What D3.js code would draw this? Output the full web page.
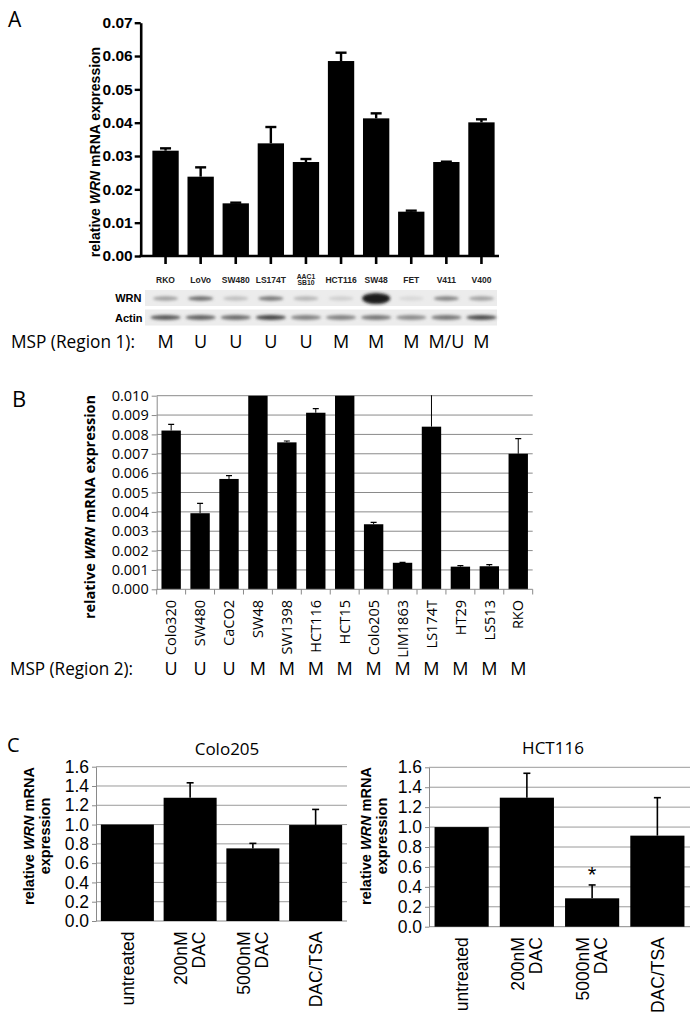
<!DOCTYPE html>
<html><head><meta charset="utf-8">
<script src="https://cdn.jsdelivr.net/npm/d3@7"></script>
<style>body{margin:0;background:#fff} svg{display:block}</style>
</head><body>
<svg id="c" width="699" height="1017"></svg>
<script>
// ---------- Panel A data ----------
const catsA = ["RKO","LoVo","SW480","LS174T","AAC1\nSB10","HCT116","SW48","FET","V411","V400"];
const valsA = [0.0316,0.0238,0.0158,0.0338,0.0282,0.0585,0.0413,0.0133,0.0282,0.0401];
const errTopA = [0.0323,0.0266,0.0160,0.0387,0.0291,0.0610,0.0428,0.0136,0.0283,0.0410];
const ticksA = [0,0.01,0.02,0.03,0.04,0.05,0.06,0.07];
const mspA = ["M","U","U","U","U","M","M","M","M/U","M"];
const wrnBand = [0.35,0.6,0.2,0.55,0.25,0.12,1.0,0.08,0.5,0.35];
const actinBand = [0.7,0.65,0.6,0.8,0.5,0.5,0.55,0.45,0.55,0.75];
// ---------- Panel B data ----------
const catsB = ["Colo320","SW480","CaCO2","SW48","SW1398","HCT116","HCT15","Colo205","LIM1863","LS174T","HT29","LS513","RKO"];
const valsB = [0.0082,0.00393,0.0057,0.0100,0.00759,0.00912,0.0100,0.00336,0.00137,0.0084,0.00117,0.00119,0.0070];
const errTopB = [0.00852,0.00444,0.00587,0.0100,0.00766,0.00933,0.0100,0.00346,0.00139,0.0105,0.00122,0.00127,0.00778];
const ticksB = [0,0.001,0.002,0.003,0.004,0.005,0.006,0.007,0.008,0.009,0.010];
const mspB = ["U","U","U","M","M","M","M","M","M","M","M","M","M"];
// ---------- Panel C data ----------
const catsC = ["untreated","200nM\nDAC","5000nM\nDAC","DAC/TSA"];
const valsColo205 = [1.0,1.278,0.753,0.995];
const errTopColo205 = [1.0,1.433,0.805,1.157];
const valsHCT116 = [1.0,1.295,0.285,0.914];
const errTopHCT116 = [1.0,1.54,0.419,1.295];
const ticksC = [0,0.2,0.4,0.6,0.8,1.0,1.2,1.4,1.6];

const svg = d3.select("#c");
const ARIAL = "'Liberation Sans', Arial, sans-serif";
const CAL = "'Open Sans', 'Noto Sans', sans-serif";

function yTitle(g, x, y, lines, size, font, len) {
  const t = g.append("text").attr("transform", `translate(${x},${y}) rotate(-90)`)
    .attr("text-anchor","middle").attr("font-family", font).attr("font-weight","bold")
    .attr("font-size", size);
  lines.forEach((ln, i) => {
    const ts = t.append("tspan").attr("x",0).attr("dy", i===0 ? `${0.35 - (lines.length-1)*0.55}em` : "1.1em");
    ln.forEach(p => ts.append("tspan").attr("font-style", p[1] ? "italic" : null).text(p[0]));
  });
}

// ================= PANEL A =================
const gA = svg.append("g");
gA.append("text").attr("x",8).attr("y",27).attr("font-family",CAL).attr("font-size",21).text("A");
const xA = d3.scaleBand().domain(catsA).range([148,499]).paddingInner(0.25).paddingOuter(0.125);
const yA = d3.scaleLinear().domain([0,0.07]).range([256,22.7]);
const axA = gA.append("g").attr("transform","translate(140.7,0)")
  .call(d3.axisLeft(yA).tickValues(ticksA).tickFormat(d3.format(".2f")).tickSize(6).tickSizeOuter(0).tickPadding(2));
axA.select(".domain").attr("stroke-width",2.6);
axA.selectAll(".tick line").attr("stroke-width",2.4);
axA.selectAll(".tick text").attr("font-family",ARIAL).attr("font-weight","bold").attr("font-size",15.5);
gA.selectAll("rect.bar").data(catsA).join("rect")
  .attr("x", d => xA(d)).attr("width", xA.bandwidth())
  .attr("y", (d,i) => yA(valsA[i])).attr("height", (d,i) => yA(0)-yA(valsA[i])).attr("fill","#000");
catsA.forEach((d,i) => {
  const cx = xA(d) + xA.bandwidth()/2;
  gA.append("line").attr("x1",cx).attr("x2",cx).attr("y1",yA(valsA[i])).attr("y2",yA(errTopA[i])).attr("stroke","#000").attr("stroke-width",2.4);
  gA.append("line").attr("x1",cx-5.5).attr("x2",cx+5.5).attr("y1",yA(errTopA[i])).attr("y2",yA(errTopA[i])).attr("stroke","#000").attr("stroke-width",2.4);
});
const xaxA = gA.append("g").attr("transform","translate(0,256)")
  .call(d3.axisBottom(xA).tickSize(8).tickSizeOuter(0).tickFormat(""));
xaxA.select(".domain").remove();
xaxA.selectAll(".tick line").attr("stroke-width",2.6);
gA.append("line").attr("x1",139.4).attr("x2",499).attr("y1",256).attr("y2",256).attr("stroke","#000").attr("stroke-width",2.6);
yTitle(gA, 95, 152, [[["relative ",0],["WRN",1],[" mRNA expression",0]]], 14, ARIAL);

// blot
const defs = svg.append("defs");
defs.append("filter").attr("id","blur").attr("x","-50%").attr("y","-200%").attr("width","200%").attr("height","500%")
  .append("feGaussianBlur").attr("stdDeviation",1.6);
defs.append("clipPath").attr("id","clipB").append("rect").attr("x",150).attr("y",395.2).attr("width",390).attr("height",200);
catsA.forEach(d => {
  const cx = xA(d) + xA.bandwidth()/2;
  const parts = d.split("\n");
  parts.forEach((p,j) => {
    gA.append("text").attr("x",cx).attr("y", parts.length===1 ? 283 : 279 + j*6.2)
      .attr("text-anchor","middle").attr("font-family",ARIAL).attr("font-weight","bold")
      .attr("font-size", parts.length===1 ? 8.5 : 6.8).attr("fill","#222").text(p);
  });
});
gA.append("rect").attr("x",145).attr("y",290).attr("width",352).attr("height",16).attr("fill","#ececec");
gA.append("rect").attr("x",145).attr("y",309.5).attr("width",352).attr("height",16).attr("fill","#ececec");
gA.append("text").attr("x",141.5).attr("y",302).attr("text-anchor","end").attr("font-family",ARIAL).attr("font-weight","bold").attr("font-size",11).text("WRN");
gA.append("text").attr("x",142.5).attr("y",321.5).attr("text-anchor","end").attr("font-family",ARIAL).attr("font-weight","bold").attr("font-size",11).text("Actin");
const grey = v => { const c = Math.round(232 - v*205); return `rgb(${c},${c},${c})`; };
catsA.forEach((d,i) => {
  const cx = xA(d) + xA.bandwidth()/2;
  const big = wrnBand[i] > 0.9;
  gA.append("ellipse").attr("cx",cx).attr("cy",298.5).attr("rx", big ? 14 : 12.5).attr("ry", big ? 5.5 : 2.2)
    .attr("fill", grey(wrnBand[i])).attr("filter","url(#blur)");
  gA.append("ellipse").attr("cx",cx).attr("cy",317.5).attr("rx",15).attr("ry",2.4)
    .attr("fill", grey(actinBand[i])).attr("filter","url(#blur)");
});
gA.append("text").attr("x",11).attr("y",348).attr("font-family",CAL).attr("font-size",17.5)
  .attr("textLength",124).attr("lengthAdjust","spacingAndGlyphs").text("MSP (Region 1):");
catsA.forEach((d,i) => {
  gA.append("text").attr("x", xA(d)+xA.bandwidth()/2).attr("y",348).attr("text-anchor","middle")
    .attr("font-family",CAL).attr("font-size",18).text(mspA[i]);
});

// ================= PANEL B =================
const gB = svg.append("g");
gB.append("text").attr("x",12).attr("y",407).attr("font-family",CAL).attr("font-size",22).text("B");
const xB = d3.scaleBand().domain(catsB).range([156.7,532.7]).paddingInner(0.33).paddingOuter(0.165);
const yB = d3.scaleLinear().domain([0,0.010]).range([589.3,395.7]);
gB.selectAll("line.grid").data(ticksB.slice(1)).join("line")
  .attr("x1",156.7).attr("x2",532.7).attr("y1",d=>yB(d)).attr("y2",d=>yB(d)).attr("stroke","#8a8a8a").attr("stroke-width",1);
const axB = gB.append("g").attr("transform","translate(156.7,0)")
  .call(d3.axisLeft(yB).tickValues(ticksB).tickFormat(d3.format(".3f")).tickSize(5).tickSizeOuter(0).tickPadding(3));
axB.select(".domain").attr("stroke","#8a8a8a");
axB.selectAll(".tick line").attr("stroke","#8a8a8a");
axB.selectAll(".tick text").attr("font-family",CAL).attr("font-size",14.5).attr("fill","#000");
const plotB = gB.append("g").attr("clip-path","url(#clipB)");
plotB.selectAll("rect").data(catsB).join("rect")
  .attr("x", d => xB(d)).attr("width", xB.bandwidth())
  .attr("y", (d,i) => yB(valsB[i])).attr("height", (d,i) => yB(0)-yB(valsB[i])).attr("fill","#000");
catsB.forEach((d,i) => {
  const cx = xB(d) + xB.bandwidth()/2;
  if (errTopB[i] > valsB[i]) {
    plotB.append("line").attr("x1",cx).attr("x2",cx).attr("y1",yB(valsB[i])).attr("y2",yB(errTopB[i])).attr("stroke","#000").attr("stroke-width",1);
    plotB.append("line").attr("x1",cx-3).attr("x2",cx+3).attr("y1",yB(errTopB[i])).attr("y2",yB(errTopB[i])).attr("stroke","#000").attr("stroke-width",1.2);
  }
});
gB.append("line").attr("x1",156.7).attr("x2",532.7).attr("y1",589.3).attr("y2",589.3).attr("stroke","#8a8a8a");
const bounds = catsB.map(d => xB(d) - xB.step()*xB.paddingInner()/2).concat([532.7]);
gB.selectAll("line.xt").data(bounds).join("line").attr("x1",d=>d).attr("x2",d=>d).attr("y1",589.3).attr("y2",594.5).attr("stroke","#8a8a8a");
catsB.forEach(d => {
  const cx = xB(d) + xB.bandwidth()/2;
  gB.append("text").attr("transform",`translate(${cx},600) rotate(-90)`).attr("dy","0.36em")
    .attr("text-anchor","end").attr("font-family",CAL).attr("font-size",14.5).text(d);
});
yTitle(gB, 90, 507, [[["relative ",0],["WRN",1],[" mRNA expression",0]]], 14.5, CAL);
gB.append("text").attr("x",10).attr("y",675).attr("font-family",CAL).attr("font-size",17.5)
  .attr("textLength",123).attr("lengthAdjust","spacingAndGlyphs").text("MSP (Region 2):");
catsB.forEach((d,i) => {
  gB.append("text").attr("x", xB(d)+xB.bandwidth()/2).attr("y",675).attr("text-anchor","middle")
    .attr("font-family",CAL).attr("font-size",18).text(mspB[i]);
});

// ================= PANEL C =================
svg.append("text").attr("x",7).attr("y",752).attr("font-family",CAL).attr("font-size",20).text("C");
function panelC(opt) {
  const g = svg.append("g");
  const x = d3.scaleBand().domain(catsC).range(opt.xr).paddingInner(opt.pad).paddingOuter(opt.pad/2);
  const y = d3.scaleLinear().domain([0,1.6]).range(opt.yr);
  g.selectAll("line.grid").data(ticksC.slice(1)).join("line")
    .attr("x1",opt.xr[0]).attr("x2",opt.xr[1]).attr("y1",d=>y(d)).attr("y2",d=>y(d)).attr("stroke","#9a9a9a");
  const ax = g.append("g").attr("transform",`translate(${opt.xr[0]},0)`)
    .call(d3.axisLeft(y).tickValues(ticksC).tickFormat(d3.format(".1f")).tickSize(4).tickSizeOuter(0).tickPadding(3));
  ax.select(".domain").attr("stroke","#8a8a8a");
  ax.selectAll(".tick line").attr("stroke","#8a8a8a");
  ax.selectAll(".tick text").attr("font-family",ARIAL).attr("font-size",17.5).attr("fill","#000");
  g.append("line").attr("x1",opt.xr[0]).attr("x2",opt.xr[1]).attr("y1",y(0)).attr("y2",y(0)).attr("stroke","#8a8a8a");
  g.selectAll("rect").data(catsC).join("rect")
    .attr("x", d => x(d)).attr("width", x.bandwidth())
    .attr("y", (d,i) => y(opt.vals[i])).attr("height", (d,i) => y(0)-y(opt.vals[i])).attr("fill","#000");
  catsC.forEach((d,i) => {
    const cx = x(d) + x.bandwidth()/2;
    if (opt.err[i] > opt.vals[i]) {
      g.append("line").attr("x1",cx).attr("x2",cx).attr("y1",y(opt.vals[i])).attr("y2",y(opt.err[i])).attr("stroke","#000").attr("stroke-width",1.6);
      g.append("line").attr("x1",cx-3.5).attr("x2",cx+3.5).attr("y1",y(opt.err[i])).attr("y2",y(opt.err[i])).attr("stroke","#000").attr("stroke-width",1.6);
    }
    const lines = d.split("\n");
    const t = g.append("text").attr("transform",`translate(${cx},${y(0)+10.5}) rotate(-90)`)
      .attr("text-anchor","end").attr("font-family",ARIAL).attr("font-size",17.5);
    lines.forEach((ln,j) => t.append("tspan").attr("x",0)
      .attr("dy", j===0 ? `${0.35 - (lines.length-1)*0.52}em` : "1.04em").text(ln));
    if (opt.star === i) {
      g.append("text").attr("x",cx).attr("y",y(opt.err[i]) - 3).attr("text-anchor","middle")
        .attr("font-family",ARIAL).attr("font-size",22).text("*");
    }
  });
  g.append("text").attr("x",opt.title[1]).attr("y",opt.title[2]).attr("text-anchor","middle")
    .attr("font-family",CAL).attr("font-size",17).text(opt.title[0]);
  yTitle(g, opt.yt[0], opt.yt[1], [[["relative ",0],["WRN",1],[" mRNA",0]],[["expression",0]]], 14.5, ARIAL);
}
panelC({xr:[96,347], yr:[921,766.7], pad:0.155, vals:valsColo205, err:errTopColo205, title:["Colo205",227,755], yt:[37,836], star:-1});
panelC({xr:[429,690], yr:[926.7,767.3], pad:0.17, vals:valsHCT116, err:errTopHCT116, title:["HCT116",553,754], yt:[374,836], star:2});
</script>
</body></html>
